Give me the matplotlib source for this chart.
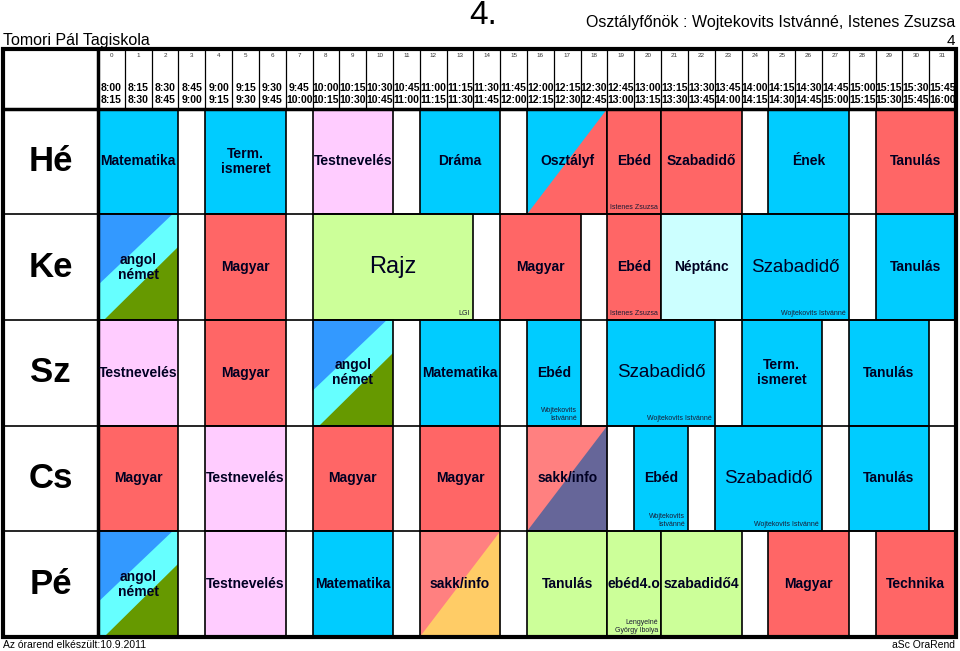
import matplotlib.pyplot as plt
from matplotlib.patches import Rectangle, Polygon

plt.rcParams['font.family'] = ['Liberation Sans', 'DejaVu Sans']

days = ['Hé', 'Ke', 'Sz', 'Cs', 'Pé']
slot_nums = list(range(32))
start_times = ['8:00', '8:15', '8:30', '8:45', '9:00', '9:15', '9:30', '9:45',
               '10:00', '10:15', '10:30', '10:45', '11:00', '11:15', '11:30', '11:45',
               '12:00', '12:15', '12:30', '12:45', '13:00', '13:15', '13:30', '13:45',
               '14:00', '14:15', '14:30', '14:45', '15:00', '15:15', '15:30', '15:45']
end_times = ['8:15', '8:30', '8:45', '9:00', '9:15', '9:30', '9:45', '10:00',
             '10:15', '10:30', '10:45', '11:00', '11:15', '11:30', '11:45', '12:00',
             '12:15', '12:30', '12:45', '13:00', '13:15', '13:30', '13:45', '14:00',
             '14:15', '14:30', '14:45', '15:00', '15:15', '15:30', '15:45', '16:00']

# (first slot, number of slots, subject, teacher)
he = [(0, 3, 'Matematika', ''), (4, 3, 'Term.\nismeret', ''), (8, 3, 'Testnevelés', ''),
      (12, 3, 'Dráma', ''), (16, 3, 'Osztályf', ''), (19, 2, 'Ebéd', 'Istenes Zsuzsa'),
      (21, 3, 'Szabadidő', ''), (25, 3, 'Ének', ''), (29, 3, 'Tanulás', '')]
ke = [(0, 3, 'angol\nnémet', ''), (4, 3, 'Magyar', ''), (8, 6, 'Rajz', 'LGI'),
      (15, 3, 'Magyar', ''), (19, 2, 'Ebéd', 'Istenes Zsuzsa'), (21, 3, 'Néptánc', ''),
      (24, 4, 'Szabadidő', 'Wojtekovits Istvánné'), (29, 3, 'Tanulás', '')]
sz = [(0, 3, 'Testnevelés', ''), (4, 3, 'Magyar', ''), (8, 3, 'angol\nnémet', ''),
      (12, 3, 'Matematika', ''), (16, 2, 'Ebéd', 'Wojtekovits\nIstvánné'),
      (19, 4, 'Szabadidő', 'Wojtekovits Istvánné'), (24, 3, 'Term.\nismeret', ''),
      (28, 3, 'Tanulás', '')]
cs = [(0, 3, 'Magyar', ''), (4, 3, 'Testnevelés', ''), (8, 3, 'Magyar', ''),
      (12, 3, 'Magyar', ''), (16, 3, 'sakk/info', ''), (20, 2, 'Ebéd', 'Wojtekovits\nIstvánné'),
      (23, 4, 'Szabadidő', 'Wojtekovits Istvánné'), (28, 3, 'Tanulás', '')]
pe = [(0, 3, 'angol\nnémet', ''), (4, 3, 'Testnevelés', ''), (8, 3, 'Matematika', ''),
      (12, 3, 'sakk/info', ''), (16, 3, 'Tanulás', ''), (19, 2, 'ebéd4.o', 'Lengyelné\nGyörgy Ibolya'),
      (21, 3, 'szabadidő4', ''), (25, 3, 'Magyar', ''), (29, 3, 'Technika', '')]
lessons = [he, ke, sz, cs, pe]

# colours, same order as the lessons
he_col = ['blue', 'blue', 'pink', 'blue', ('blue', 'red'), 'red', 'red', 'blue', 'red']
ke_col = ['lang', 'red', 'lgreen', 'red', 'red', 'lcyan', 'blue', 'blue']
sz_col = ['pink', 'red', 'lang', 'blue', 'blue', 'blue', 'blue', 'blue']
cs_col = ['red', 'pink', 'red', 'red', ('salmon', 'purple'), 'blue', 'blue', 'blue']
pe_col = ['lang', 'pink', 'blue', ('salmon', 'orange'), 'lgreen', 'lgreen', 'lgreen', 'red', 'red']
colours = [he_col, ke_col, sz_col, cs_col, pe_col]

pal = {'blue': '#00CCFF', 'red': '#FF6666', 'pink': '#FFCCFF', 'lgreen': '#CCFF99',
       'lcyan': '#CCFFFF', 'salmon': '#FF8080', 'purple': '#666699', 'orange': '#FFCC66'}
lang_cols = ['#3399FF', '#66FFFF', '#669900']

fig = plt.figure(figsize=(9.6, 6.51), dpi=100)
ax = fig.add_axes([3/960, 14/651, 953/960, 588/651])
ax.set_xlim(-3.545, 32)
ax.set_ylim(5, -0.563)
ax.axis('off')

for d, (day_lessons, day_cols) in enumerate(zip(lessons, colours)):
    for (s, n, name, teacher), c in zip(day_lessons, day_cols):
        if c == 'lang':
            ax.add_patch(Rectangle((s, d), n, 1, facecolor=lang_cols[1], lw=0))
            ax.add_patch(Polygon([(s, d), (s + 0.925*n, d), (s, d + 0.67)],
                                 facecolor=lang_cols[0], lw=0))
            ax.add_patch(Polygon([(s + n, d + 0.31), (s + n, d + 1), (s + 0.075*n, d + 1)],
                                 facecolor=lang_cols[2], lw=0))
        elif isinstance(c, tuple):
            ax.add_patch(Rectangle((s, d), n, 1, facecolor=pal[c[0]], lw=0))
            ax.add_patch(Polygon([(s, d + 1), (s + n, d), (s + n, d + 1)],
                                 facecolor=pal[c[1]], lw=0))
        else:
            ax.add_patch(Rectangle((s, d), n, 1, facecolor=pal[c], lw=0))
        ax.add_patch(Rectangle((s, d), n, 1, facecolor='none', edgecolor='black', lw=1.2))
        if n >= 4:
            ax.text(s + n/2, d + 0.5, name, ha='center', va='center',
                    fontsize=17 if n >= 6 else 13.5, color='#000022')
        else:
            ax.text(s + n/2, d + 0.5, name, ha='center', va='center', fontsize=10,
                    fontweight='bold', linespacing=1.1, color='#000022')
        if teacher:
            ax.text(s + n - 0.12, d + 0.97, teacher, ha='right', va='bottom',
                    multialignment='right', fontsize=5, color='#1a1a33', linespacing=1.25)
    ax.text(-3.545/2, d + 0.5, days[d], ha='center', va='center', fontsize=25,
            fontweight='bold')
    ax.plot([-3.545, 32], [d, d], color='black', lw=1.2)

# header
for i in slot_nums:
    ax.plot([i, i], [-0.563, 0], color='black', lw=0.9)
    ax.text(i + 0.5, -0.506, str(i), ha='center', va='center', fontsize=4.5, color='#333333')
    ax.text(i + 0.5, -0.194, start_times[i], ha='center', va='center', fontsize=7.5,
            fontweight='bold')
    ax.text(i + 0.5, -0.080, end_times[i], ha='center', va='center', fontsize=7.5,
            fontweight='bold')
ax.plot([-3.545, 32], [0, 0], color='black', lw=2.5)
ax.plot([0, 0], [-0.563, 5], color='black', lw=2.5)
ax.add_patch(Rectangle((-3.545, -0.563), 35.545, 5.563, facecolor='none',
                       edgecolor='black', lw=3, clip_on=False))

fig.text(483/960, 1 - 16/651, '4.', ha='center', va='center', fontsize=24)
fig.text(3/960, 1 - 40/651, 'Tomori Pál Tagiskola', ha='left', va='center', fontsize=11.5)
fig.text(955/960, 1 - 22/651, 'Osztályfőnök : Wojtekovits Istvánné, Istenes Zsuzsa',
         ha='right', va='center', fontsize=11.5)
fig.text(955/960, 1 - 41/651, '4', ha='right', va='center', fontsize=11)
fig.text(3/960, 1 - 645/651, 'Az órarend elkészült:10.9.2011', ha='left', va='center',
         fontsize=7.5)
fig.text(955/960, 1 - 645/651, 'aSc OraRend', ha='right', va='center', fontsize=7.5)

plt.savefig('out.png', dpi=100)
